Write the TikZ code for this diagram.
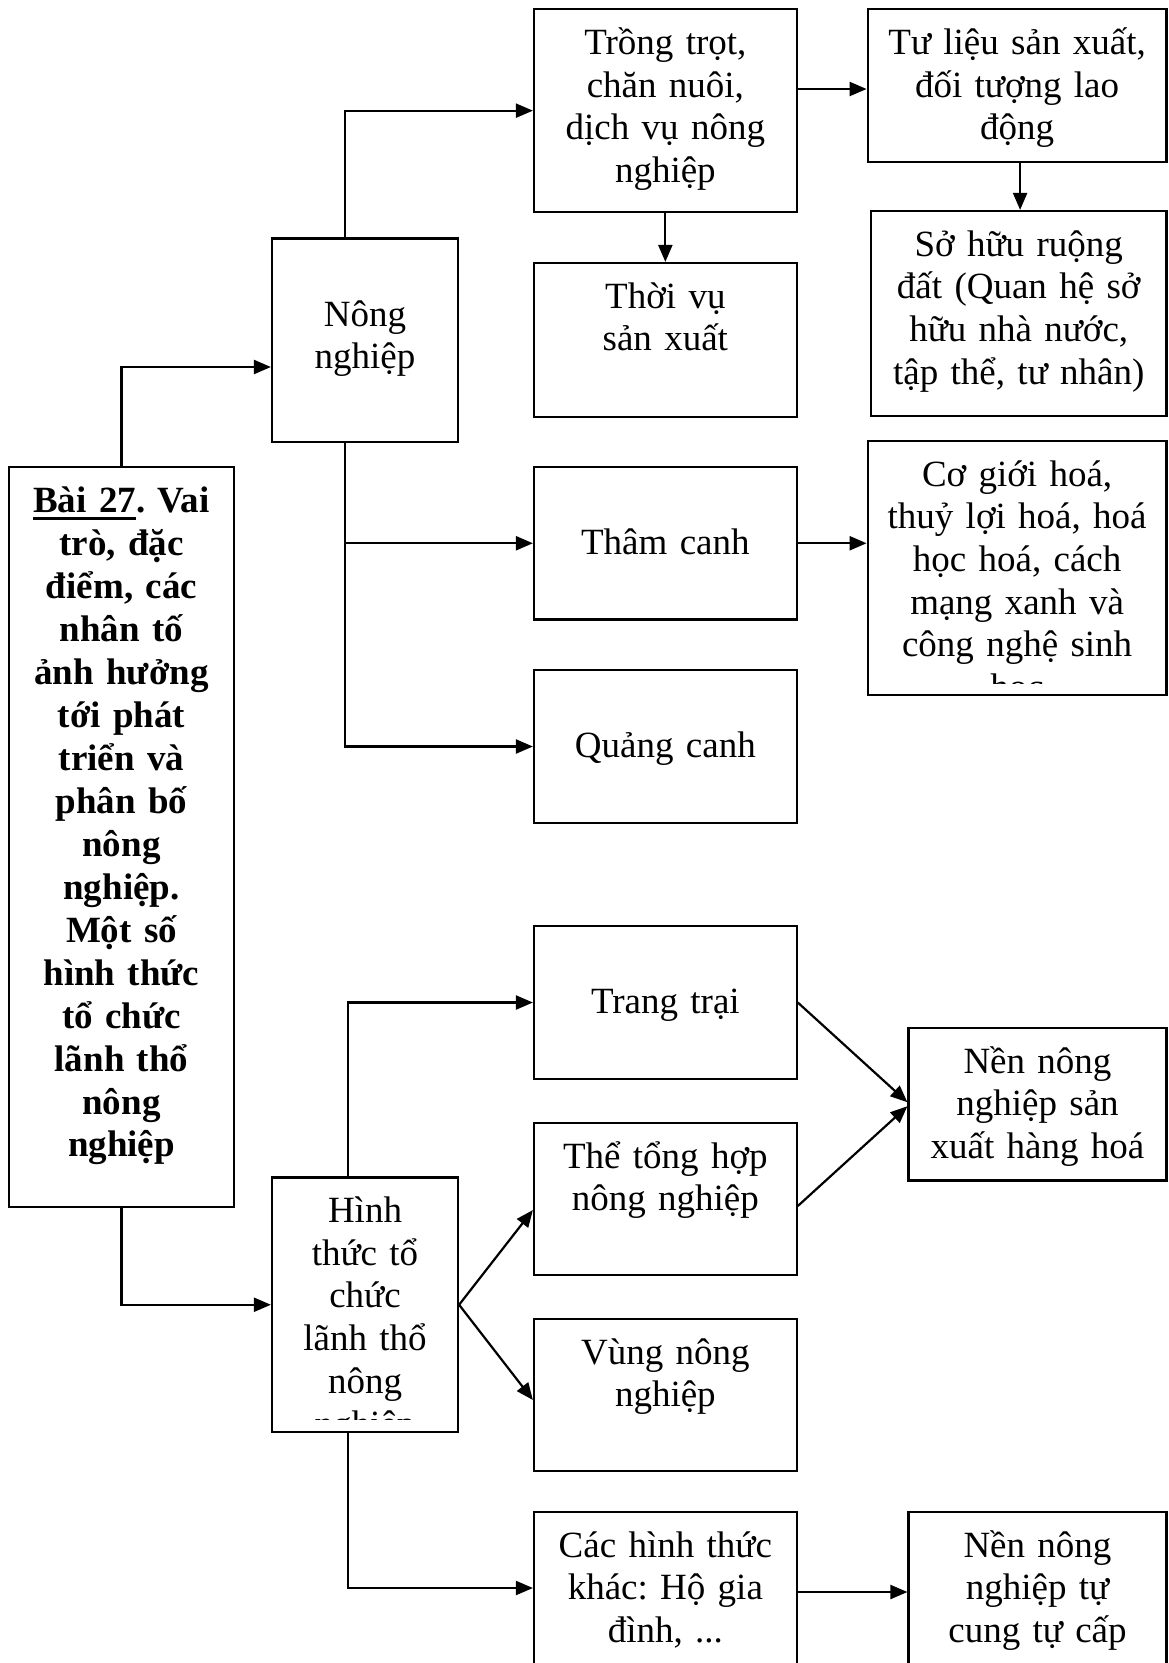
\documentclass[tikz,border=0pt]{standalone}
\usepackage{fontspec}
\setmainfont{Liberation Serif}
\usetikzlibrary{arrows.meta,calc}
\frenchspacing

\tikzset{
  boxst/.style={draw, line width=2.2pt, rectangle, inner sep=0pt},
  txt/.style={inner sep=0pt, anchor=base, align=center, font=\fontsize{37}{42.7}\selectfont},
  arr/.style={line width=2.2pt, -{Triangle[length=17pt,width=14pt]}},
}

% thick underline as used in the title
\newcommand\ulbold[1]{\setbox0\hbox{#1}\rlap{\rule[-7.5pt]{\wd0}{2.7pt}}\box0}

% #1 name, #2 left, #3 top, #4 right, #5 bottom,
% #6 offset of the first baseline below the top, #7 lower edge of the visible text, #8 text
\newcommand\flowbox[8]{%
  \pgfmathsetmacro\fbw{#4-#2}%
  \pgfmathsetmacro\fbh{#5-#3}%
  \pgfmathsetmacro\fbx{(#2+#4)/2}%
  \pgfmathsetmacro\fby{(#3+#5)/2}%
  \pgfmathsetmacro\fbt{#3+#6}%
  \node[boxst, minimum width=\fbw pt, minimum height=\fbh pt] (#1) at (\fbx,\fby) {};
  \begin{scope}
    \clip (#2,#3) rectangle (#4,#7);
    \node[txt, text width=\fbw pt] (#1-t) at (\fbx,\fbt) {#8};
  \end{scope}
}

\begin{document}
\begin{tikzpicture}[x=1pt,y=-1pt]
\useasboundingbox (0,0) rectangle (1168,1663);
\fill[white] (0,0) rectangle (1168,1663);

% title
\flowbox{main}{9}{467}{234}{1207}{45}{1207}{\fontsize{37}{43}\selectfont\bfseries\ulbold{Bài 27}. Vai\\ trò, đặc\\ điểm, các\\ nhân tố\\ ảnh hưởng\\ tới phát\\ triển và\\ phân bố\\ nông\\ nghiệp.\\ Một số\\ hình thức\\ tổ chức\\ lãnh thổ\\ nông\\ nghiệp}

% upper branch
\flowbox{nong}{272}{238.5}{458}{442}{87.7}{442}{Nông\\ nghiệp}
\flowbox{tt}{534}{9.3}{796.7}{212}{45}{212}{Trồng trọt,\\ chăn nuôi,\\ dịch vụ nông\\ nghiệp}
\flowbox{tl}{867.7}{9.3}{1166.5}{162.3}{45}{162.3}{Tư liệu sản xuất,\\ đối tượng lao\\ động}
\flowbox{thoi}{534}{263}{796.7}{417}{45}{417}{Thời vụ\\ sản xuất}
\flowbox{sh}{871}{211}{1166.5}{416}{45}{416}{Sở hữu ruộng\\ đất (Quan hệ sở\\ hữu nhà nước,\\ tập thể, tư nhân)}
\flowbox{tham}{534}{467}{796.7}{619.5}{87.7}{619.5}{Thâm canh}
\flowbox{cg}{867.7}{441}{1166.5}{695}{45}{683}{Cơ giới hoá,\\ thuỷ lợi hoá, hoá\\ học hoá, cách\\ mạng xanh và\\ công nghệ sinh\\ học}
\flowbox{quang}{534}{670}{796.7}{823}{87.7}{823}{Quảng canh}

% lower branch
\flowbox{trang}{534}{926}{796.7}{1079}{87.7}{1079}{Trang trại}
\flowbox{nen1}{908.5}{1028}{1166.5}{1180.5}{45}{1180.5}{Nền nông\\ nghiệp sản\\ xuất hàng hoá}
\flowbox{the}{534}{1123}{796.7}{1275}{45}{1275}{Thể tổng hợp\\ nông nghiệp}
\flowbox{hinh}{272}{1177.5}{458}{1432}{45}{1419}{Hình\\ thức tổ\\ chức\\ lãnh thổ\\ nông\\ nghiệp}
\flowbox{vung}{534}{1319}{796.7}{1471}{45}{1471}{Vùng nông\\ nghiệp}
\flowbox{cac}{534}{1512}{796.7}{1720}{45}{1720}{Các hình thức\\ khác: Hộ gia\\ đình, ...}
\flowbox{nen2}{908.5}{1512}{1166.5}{1720}{45}{1720}{Nền nông\\ nghiệp tự\\ cung tự cấp}

% connectors
\draw[arr] (main.north) |- (nong.west |- 0,367);
\draw[arr] ([xshift=-20pt]nong.north) |- (tt.west);
\draw[arr] ([xshift=-20pt]nong.south) |- (tham.west);
\draw[arr] ([xshift=-20pt]nong.south) |- (quang.west);
\draw[arr] (tt.south) -- (thoi.north);
\draw[arr] (tt.east |- 0,89) -- (tl.west |- 0,89);
\draw[arr] ([xshift=3pt]tl.south) -- ([xshift=3pt]tl.south |- sh.north);
\draw[arr] (tham.east) -- (tham.east -| cg.west);

\draw[arr] (main.south) |- (hinh.west);
\draw[arr] ([xshift=-17pt]hinh.north) |- (trang.west);
\draw[arr] (hinh.east) -- (the.west |- 0,1210);
\draw[arr] (hinh.east) -- (vung.west |- 0,1400);
\draw[arr] ([xshift=-17pt]hinh.south) |- (cac.west |- 0,1588);
\draw[arr] (trang.east) -- ([yshift=2pt]nen1.west);
\draw[arr] (the.east |- 0,1206) -- ([yshift=-2pt]nen1.west);
\draw[arr] (cac.east |- 0,1592) -- (nen2.west |- 0,1592);
\end{tikzpicture}
\end{document}
